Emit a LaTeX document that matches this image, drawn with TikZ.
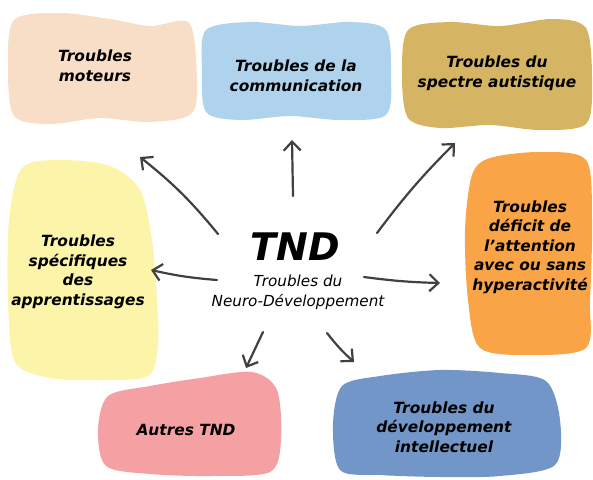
\documentclass[tikz,border=0pt]{standalone}
\usepackage{fontspec}
\setmainfont{DejaVu Sans}
\usepackage{xcolor}
\usetikzlibrary{arrows.meta}
\definecolor{peche}{HTML}{F9DEC7}
\definecolor{ciel}{HTML}{AFD3EC}
\definecolor{ocre}{HTML}{D5B563}
\definecolor{paille}{HTML}{FCF4A8}
\definecolor{orange}{HTML}{F9A447}
\definecolor{rose}{HTML}{F5A0A2}
\definecolor{acier}{HTML}{7196C7}
\definecolor{crayon}{HTML}{404040}
\tikzset{lbl/.style={align=center,font=\fontsize{15.4}{19.5}\selectfont\bfseries\itshape},
fleche/.style={draw=crayon,line width=2.2pt,line cap=round,-{Straight Barb[length=9pt,width=17pt]}}}

\begin{document}
\begin{tikzpicture}[x=1pt,y=-1pt]
        \useasboundingbox (0,0) rectangle (593,479);
        % taches de couleur
        \fill[peche] plot[smooth cycle] coordinates {(14,20) (60,13) (110,19) (150,26) (188,22) (196,60) (193,112) (150,122) (100,118) (50,124) (14,116) (8,68)};
        \fill[ciel] plot[smooth cycle] coordinates {(206,30) (250,22) (300,26) (350,22) (386,30) (391,75) (386,115) (340,120) (290,116) (240,120) (206,112) (202,70)};
        \fill[ocre] plot[smooth cycle] coordinates {(408,30) (450,22) (500,26) (552,19) (586,28) (592,80) (586,124) (540,130) (490,125) (440,128) (408,118) (402,75)};
        \fill[paille] plot[smooth cycle] coordinates {(22,168) (60,160) (110,166) (140,190) (152,240) (157,300) (158,345) (148,376) (100,380) (50,378) (15,362) (8,300) (9,220)};
        \fill[orange] plot[smooth cycle] coordinates {(490,158) (540,152) (586,160) (592,220) (590,300) (586,348) (530,355) (480,348) (468,300) (465,230) (472,175)};
        \fill[rose] plot[smooth cycle] coordinates {(108,396) (150,386) (200,378) (252,372) (277,390) (281,440) (270,472) (210,476) (150,474) (106,466) (98,430)};
        \fill[acier] plot[smooth cycle] coordinates {(342,386) (380,376) (440,370) (500,373) (546,381) (560,420) (555,465) (500,476) (440,477) (380,475) (340,470) (333,425)};

        \node[lbl] (mot) at (95,66) {Troubles\\moteurs};
        \node[lbl] (com) at (296,76) {Troubles de la\\communication};
        \node[lbl] (tsa) at (497,73) {Troubles du\\spectre autistique};
        \node[lbl] (app) at (78,272) {Troubles\\spécifiques\\des\\apprentissages};
        \node[lbl] (tda) at (530,247) {Troubles\\déficit de\\l’attention\\avec ou sans\\hyperactivité};
        \node[lbl] (aut) at (186,430) {Autres TND};
        \node[lbl] (dev) at (444,427) {Troubles du\\développement\\intellectuel};

        \node[font=\fontsize{38}{38}\selectfont\bfseries\itshape] (tnd) at (295,247) {TND};
        \node[align=center,font=\fontsize{15.2}{20}\selectfont\itshape] (sous) at (298,292) {Troubles du\\Neuro-Développement};

        % fleches
        \coordinate (d1) at (218,234); \coordinate (f1) at (140,157);
        \coordinate (d2) at (293,196); \coordinate (f2) at (292,140);
        \coordinate (d3) at (377,233); \coordinate (f3) at (455,143);
        \coordinate (d4) at (217,280); \coordinate (f4) at (151,270);
        \coordinate (d5) at (364,277); \coordinate (f5) at (440,283);
        \coordinate (d6) at (263,332); \coordinate (f6) at (246,368);
        \coordinate (d7) at (327,333); \coordinate (f7) at (354,362);

        \draw [fleche] (d1) to [bend right=6] (f1);
        \draw [fleche] (d2) to [] (f2);
        \draw [fleche] (d3) to [bend left=4] (f3);
        \draw [fleche] (d4) to [bend left=4] (f4);
        \draw [fleche] (d5) to [bend right=3] (f5);
        \draw [fleche] (d6) to [] (f6);
        \draw [fleche] (d7) to [bend right=5] (f7);
    \end{tikzpicture}
\end{document}
